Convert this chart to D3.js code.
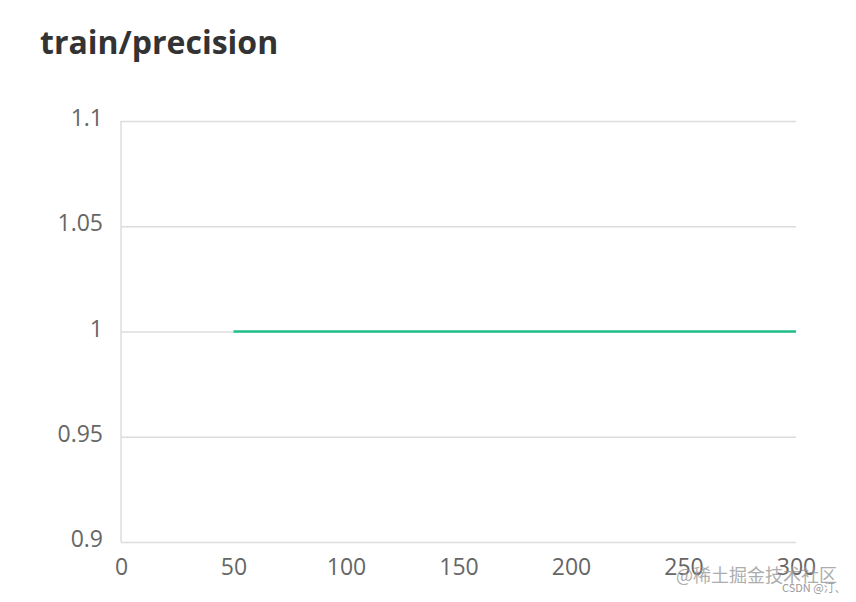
<!DOCTYPE html>
<html><head><meta charset="utf-8">
<script src="https://cdn.jsdelivr.net/npm/d3@7"></script>
<style>body{margin:0;background:#fff;}svg{display:block;}</style>
</head><body>
<svg id="c" width="856" height="602"></svg>
<script>
const title = "train/precision";
const epochs = [50, 100, 150, 200, 250, 300];
const precision = [1, 1, 1, 1, 1, 1];
const xTicks = [0, 50, 100, 150, 200, 250, 300];
const yTicks = [0.9, 0.95, 1, 1.05, 1.1];
const yTickLabels = ["0.9", "0.95", "1", "1.05", "1.1"];

const svg = d3.select("#c");
const font = "'Open Sans', 'Noto Sans', sans-serif";
const m = {left: 121, right: 796, top: 121, bottom: 542};
const x = d3.scaleLinear().domain([0, 300]).range([m.left, m.right]);
const y = d3.scaleLinear().domain([0.9, 1.1]).range([m.bottom, m.top]);

svg.append("text").attr("x", 40).attr("y", 54).text(title)
  .attr("font-family", font).attr("font-weight", "bold").attr("font-size", 32).attr("fill", "#333");

const ya = svg.append("g").attr("transform", `translate(${m.left},0)`)
  .call(d3.axisLeft(y).tickValues(yTicks).tickFormat((d, i) => yTickLabels[i])
        .tickSize(-(m.right - m.left)).tickPadding(18));
ya.select(".domain").remove();
ya.selectAll("line").attr("stroke", "#dcdcdc").attr("stroke-width", 1.5);
ya.selectAll("text").attr("font-family", font).attr("font-size", 23).attr("fill", "#666").attr("dy", "0.2em");

svg.append("line").attr("x1", m.left).attr("x2", m.left).attr("y1", m.top).attr("y2", m.bottom)
  .attr("stroke", "#dcdcdc").attr("stroke-width", 1.5);

const xa = svg.append("g").attr("transform", `translate(0,${m.bottom})`)
  .call(d3.axisBottom(x).tickValues(xTicks).tickSize(0).tickPadding(17));
xa.select(".domain").remove();
xa.selectAll("text").attr("font-family", font).attr("font-size", 23).attr("fill", "#666");

svg.append("path").datum(epochs.map((e, i) => [e, precision[i]]))
  .attr("d", d3.line().x(d => x(d[0])).y(d => y(d[1])))
  .attr("fill", "none").attr("stroke", "#20be8a").attr("stroke-width", 2.5);

svg.append("text").attr("x", 676).attr("y", 582).text("@稀土掘金技术社区")
  .attr("font-family", "'Noto Sans CJK SC', sans-serif").attr("font-size", 18).attr("fill", "#999").attr("opacity", 0.8);
svg.append("text").attr("x", 782).attr("y", 592).text("CSDN @汀、")
  .attr("font-family", "'Noto Sans CJK SC', sans-serif").attr("font-size", 11).attr("fill", "#999");
</script>
</body></html>
